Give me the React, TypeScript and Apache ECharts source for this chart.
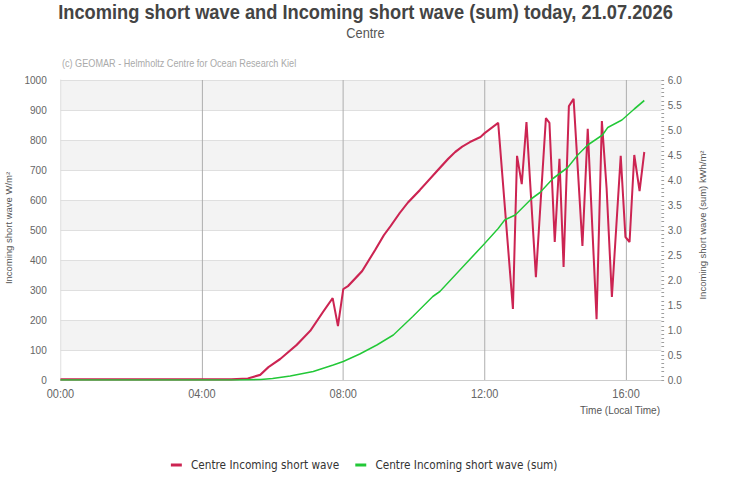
import React, { useEffect, useRef } from "react";
import * as echarts from "echarts";

// Incoming short wave, W/m² (left axis)
const waveTimes = [
  "00:00", "02:00", "04:00", "04:50", "05:18", "05:39", "05:53", "06:13", "06:41", "07:04",
  "07:26", "07:42", "07:51", "08:00", "08:08", "08:32", "08:54", "09:09", "09:20", "09:36",
  "09:50", "10:10", "10:25", "10:44", "10:58", "11:10", "11:22", "11:35", "11:53", "12:00",
  "12:23", "12:48", "12:55", "13:03", "13:11", "13:27", "13:44", "13:50", "13:59", "14:07",
  "14:14", "14:23", "14:31", "14:46", "14:55", "15:10", "15:19", "15:27", "15:36", "15:51",
  "15:59", "16:06", "16:14", "16:23", "16:31",
];
const waveValues = [
  2, 2, 2, 2, 5, 17, 43, 70, 117, 164,
  228, 273, 180, 303, 313, 363, 433, 483, 512, 557,
  592, 633, 666, 707, 737, 760, 778, 793, 810, 823,
  857, 237, 747, 653, 860, 343, 873, 857, 460, 737,
  377, 913, 937, 447, 837, 203, 863, 640, 277, 747,
  477, 460, 750, 630, 760,
];

// Incoming short wave (sum), kWh/m² (right axis)
const sumTimes = [
  "00:00", "04:00", "05:00", "05:40", "06:00", "06:30", "07:09", "07:43", "08:00", "08:28",
  "08:57", "09:25", "09:58", "10:32", "10:44", "11:18", "12:00", "12:23", "12:34", "12:52",
  "13:20", "13:34", "13:56", "14:21", "14:38", "14:55", "15:20", "15:29", "15:53", "16:14",
  "16:31",
];
const sumValues = [
  0, 0, 0, 0.01, 0.03, 0.08, 0.17, 0.3, 0.37, 0.52,
  0.7, 0.9, 1.27, 1.67, 1.77, 2.2, 2.73, 3.03, 3.2, 3.3,
  3.63, 3.75, 4.03, 4.25, 4.5, 4.7, 4.9, 5.05, 5.2, 5.42,
  5.59,
];

const seriesNames = ["Centre Incoming short wave", "Centre Incoming short wave (sum)"];
const titleText = "Incoming short wave and Incoming short wave (sum) today, 21.07.2026";
const subtitleText = "Centre";
const creditText = "(c) GEOMAR - Helmholtz Centre for Ocean Research Kiel";
const leftAxisName = "Incoming short wave W/m²";
const rightAxisName = "Incoming short wave (sum) kWh/m²";
const timeAxisName = "Time (Local Time)";

// The chart is laid out on an 800px wide canvas and squeezed into the 731px window.
const BASE_W = 800;
const BASE_H = 500;
const SCALE_X = 731 / BASE_W;

const toMinutes = (t: string) => {
  const [h, m] = t.split(":").map(Number);
  return h * 60 + m;
};
const pad2 = (n: number) => String(n).padStart(2, "0");
const formatMinutes = (v: number) => `${pad2(Math.floor(v / 60))}:${pad2(v % 60)}`;

const SANS = "Liberation Sans, Arial, sans-serif";
const RED = "#cc2452";
const GREEN = "#22c837";

export default function App() {
  const ref = useRef<HTMLDivElement>(null);

  useEffect(() => {
    if (!ref.current) return;
    const chart = echarts.init(ref.current, undefined, { renderer: "svg" });

    const waveData = waveTimes.map((t, i) => [toMinutes(t), waveValues[i]]);
    const sumData = sumTimes.map((t, i) => [toMinutes(t), sumValues[i]]);

    chart.setOption({
      animation: false,
      backgroundColor: "#ffffff",
      grid: { left: 66.2, right: 76.2, top: 80, bottom: 120, containLabel: false },
      graphic: [
        {
          type: "text",
          x: 400,
          y: 12,
          style: {
            text: titleText,
            fontSize: 20,
            fontWeight: "bold",
            fontFamily: SANS,
            fill: "#444444",
            align: "center",
            verticalAlign: "middle",
          },
        },
        {
          type: "text",
          x: 400,
          y: 33,
          style: {
            text: subtitleText,
            fontSize: 14,
            fontFamily: SANS,
            fill: "#555555",
            align: "center",
            verticalAlign: "middle",
          },
        },
        {
          type: "text",
          x: 67.8,
          y: 63,
          style: {
            text: creditText,
            fontSize: 10,
            fontFamily: SANS,
            fill: "#aaaaaa",
            align: "left",
            verticalAlign: "middle",
          },
        },
        {
          type: "text",
          x: 10,
          y: 228,
          rotation: Math.PI / 2,
          style: {
            text: leftAxisName,
            fontSize: 9.5,
            fontFamily: SANS,
            fill: "#555555",
            align: "center",
            verticalAlign: "middle",
          },
        },
        {
          type: "text",
          x: 769,
          y: 225,
          rotation: Math.PI / 2,
          style: {
            text: rightAxisName,
            fontSize: 9.5,
            fontFamily: SANS,
            fill: "#555555",
            align: "center",
            verticalAlign: "middle",
          },
        },
        {
          type: "text",
          x: 722.3,
          y: 410,
          style: {
            text: timeAxisName,
            fontSize: 11,
            fontFamily: SANS,
            fill: "#555555",
            align: "right",
            verticalAlign: "middle",
          },
        },
      ],
      legend: {
        data: seriesNames,
        left: 187,
        top: 459,
        padding: 0,
        icon: "rect",
        itemWidth: 12,
        itemHeight: 3,
        itemGap: 17.5,
        textStyle: {
          fontFamily: "DejaVu Sans, sans-serif",
          fontSize: 11.5,
          color: "#333333",
          padding: [0, 0, 0, 5],
        },
      },
      xAxis: {
        type: "value",
        min: 0,
        max: 1020,
        interval: 240,
        axisLine: { show: true, lineStyle: { color: "#cccccc" } },
        axisTick: { show: false },
        axisLabel: {
          formatter: (v: number) => formatMinutes(v),
          color: "#666666",
          fontSize: 12,
          fontFamily: SANS,
          margin: 8,
          showMaxLabel: false,
        },
        splitLine: {
          show: true,
          showMinLine: false,
          showMaxLine: false,
          lineStyle: { color: "#aaaaaa", width: 1 },
        },
      },
      yAxis: [
        {
          type: "value",
          position: "left",
          min: 0,
          max: 1000,
          interval: 100,
          axisLine: { show: true, lineStyle: { color: "#dddddd" } },
          axisTick: { show: false },
          axisLabel: {
            formatter: (v: number) => String(v),
            color: "#666666",
            fontSize: 11,
            fontFamily: SANS,
            margin: 15,
          },
          splitLine: { show: true, lineStyle: { color: "#dddddd" } },
          splitArea: {
            show: true,
            areaStyle: { color: ["rgba(255,255,255,0)", "#f3f3f3"] },
          },
        },
        {
          type: "value",
          position: "right",
          min: 0,
          max: 6,
          interval: 0.5,
          axisLine: { show: false },
          axisTick: { show: true, length: 3, lineStyle: { color: "#999999" } },
          minorTick: { show: true, splitNumber: 6, length: 3, lineStyle: { color: "#999999" } },
          axisLabel: {
            formatter: (v: number) => v.toFixed(1),
            color: "#666666",
            fontSize: 11,
            fontFamily: SANS,
            margin: 7,
          },
          splitLine: { show: false },
        },
      ],
      series: [
        {
          name: seriesNames[0],
          type: "line",
          yAxisIndex: 0,
          data: waveData,
          symbol: "none",
          lineStyle: { color: RED, width: 2.2 },
          itemStyle: { color: RED },
        },
        {
          name: seriesNames[1],
          type: "line",
          yAxisIndex: 1,
          data: sumData,
          symbol: "none",
          lineStyle: { color: GREEN, width: 1.6 },
          itemStyle: { color: GREEN },
        },
      ],
    });

    return () => chart.dispose();
  }, []);

  return (
    <div
      style={{
        position: "fixed",
        left: 0,
        top: 0,
        width: 731,
        height: 500,
        overflow: "hidden",
        background: "#ffffff",
      }}
    >
      <div
        ref={ref}
        style={{
          width: BASE_W,
          height: BASE_H,
          transform: `scaleX(${SCALE_X})`,
          transformOrigin: "0 0",
        }}
      />
    </div>
  );
}
